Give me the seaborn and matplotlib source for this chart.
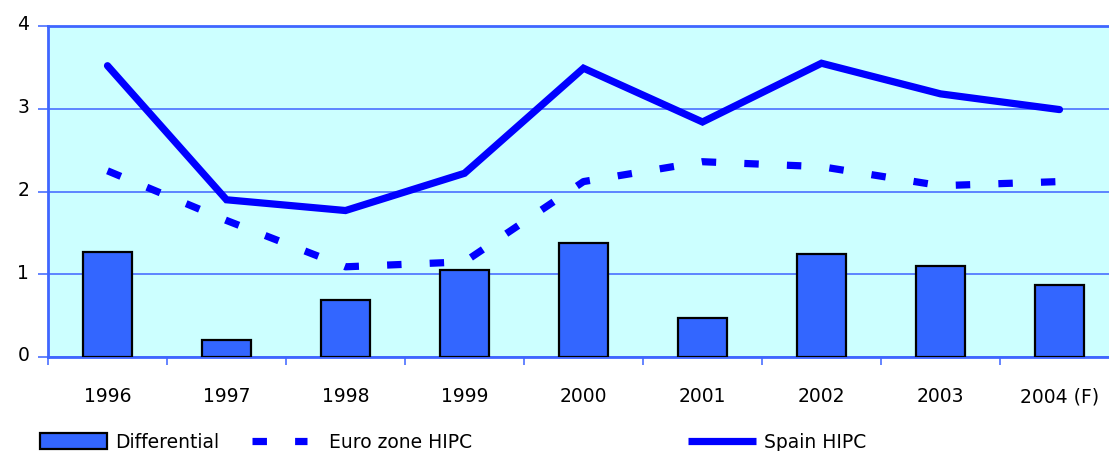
import numpy as np
import pandas as pd
import matplotlib
matplotlib.use("Agg")
import matplotlib.pyplot as plt
from matplotlib.patches import Patch
from matplotlib.lines import Line2D
from matplotlib.transforms import ScaledTranslation
import seaborn as sns

years = ["1996", "1997", "1998", "1999", "2000", "2001", "2002", "2003", "2004 (F)"]
differential = [1.27, 0.20, 0.69, 1.05, 1.38, 0.47, 1.25, 1.10, 0.87]
euro_hipc = [2.25, 1.65, 1.09, 1.15, 2.12, 2.36, 2.30, 2.07, 2.12]
spain_hipc = [3.52, 1.90, 1.77, 2.22, 3.49, 2.84, 3.55, 3.18, 2.99]
y_ticks = [0, 1, 2, 3, 4]

sns.set_theme(style="white")
plt.rcParams["font.family"] = ["DejaVu Sans"]
plt.rcParams["text.color"] = "black"

FS = 13.5
BG = "#CCFFFF"
AXC = "#3F66FF"
GRIDC = "#4A70FF"
BARC = "#3366FF"
LINEC = "#0000FF"

fig = plt.figure(figsize=(11.09, 4.52), dpi=100)
fig.patch.set_facecolor("white")
W, H = 1109, 452
ax = fig.add_axes([48 / W, 1 - 358 / H, 1071 / W, 331 / H])
ax.set_facecolor(BG)

df = pd.DataFrame({"year": years, "diff": differential})
sns.barplot(data=df, x="year", y="diff", color=BARC, saturation=1,
            edgecolor="black", linewidth=1.6, width=0.41, ax=ax, zorder=3)

xpos = np.arange(len(years))
sns.lineplot(x=xpos, y=euro_hipc, color=LINEC, lw=5.2, ax=ax, zorder=4)
euro_line = ax.lines[-1]
euro_line.set_dashes((2, 3.9))
euro_line.set_dash_capstyle("butt")
sns.lineplot(x=xpos, y=spain_hipc, color=LINEC, lw=5.2, ax=ax, zorder=5)
ax.lines[-1].set_solid_joinstyle("miter")

ax.set_xlim(-0.5, len(years) - 0.5)
ax.set_ylim(0, 4)
ax.set_xlabel("")
ax.set_ylabel("")

ax.set_yticks(y_ticks)
ax.set_yticklabels([str(v) for v in y_ticks], fontsize=FS, color="black")
ax.yaxis.grid(True, color=GRIDC, linewidth=1.2, zorder=0)
ax.set_axisbelow(True)
ax.tick_params(axis="y", which="major", direction="out", length=7, width=1.2,
               color=GRIDC, pad=6.5, left=True)

ax.set_xticks(xpos)
ax.set_xticklabels(years, fontsize=FS, color="black")
ax.set_xticks(np.arange(-0.5, len(years), 1.0), minor=True)
ax.tick_params(axis="x", which="major", length=0, pad=21)
ax.tick_params(axis="x", which="minor", direction="out", length=6, width=1.2,
               color=GRIDC, bottom=True)

for side in ["left", "bottom", "top"]:
    ax.spines[side].set_visible(True)
    ax.spines[side].set_color(AXC)
    ax.spines[side].set_linewidth(2)
ax.spines["right"].set_visible(False)

off = ScaledTranslation(0, 4 / 100, fig.dpi_scale_trans)
for lab in ax.get_yticklabels():
    lab.set_transform(lab.get_transform() + off)

ycen = 1 - 443 / H
common = dict(loc="center left", frameon=False, fontsize=FS, borderpad=0,
              borderaxespad=0, labelcolor="black")
fig.legend(handles=[Patch(facecolor=BARC, edgecolor="black", linewidth=1.6)],
           labels=["Differential"], bbox_to_anchor=(40 / W, ycen),
           handlelength=3.57, handleheight=0.95, handletextpad=0.43, **common)
fig.legend(handles=[Line2D([0], [0], color=LINEC, lw=5.2, dashes=(2, 3.9),
                           dash_capstyle="butt")],
           labels=["Euro zone HIPC"], bbox_to_anchor=(252 / W, ycen),
           handlelength=2.93, handletextpad=1.17, **common)
fig.legend(handles=[Line2D([0], [0], color=LINEC, lw=5.2, solid_capstyle="butt")],
           labels=["Spain HIPC"], bbox_to_anchor=(688 / W, ycen),
           handlelength=3.63, handletextpad=0.43, **common)

fig.savefig("out.png", dpi=100)
